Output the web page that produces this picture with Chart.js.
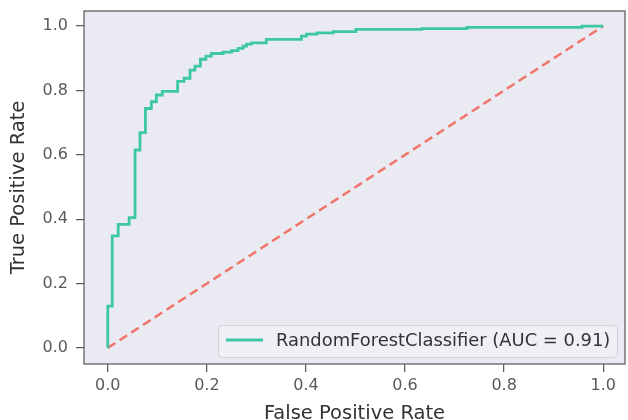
<!DOCTYPE html>
<html>
<head>
<meta charset="utf-8">
<script src="https://cdn.jsdelivr.net/npm/chart.js@4"></script>
<style>
  html, body { margin: 0; padding: 0; background: #ffffff; }
  #wrap { width: 628px; height: 420px; }
</style>
</head>
<body>
<div id="wrap"><canvas id="rocChart" width="628" height="420"></canvas></div>
<script>
// ROC curve corner points
const fpr = [0, 0, 0.009, 0.021, 0.043, 0.055, 0.065, 0.076, 0.088, 0.098, 0.11,
             0.141, 0.154, 0.166, 0.176, 0.187, 0.198, 0.209, 0.233, 0.25, 0.263,
             0.273, 0.28, 0.29, 0.32, 0.391, 0.401, 0.422, 0.455, 0.501, 0.634,
             0.725, 0.957, 1.0];
const tpr = [0, 0.13, 0.348, 0.384, 0.405, 0.615, 0.669, 0.744, 0.765, 0.786, 0.797,
             0.828, 0.838, 0.863, 0.876, 0.897, 0.907, 0.915, 0.919, 0.924, 0.931,
             0.938, 0.944, 0.948, 0.959, 0.969, 0.975, 0.979, 0.983, 0.99, 0.992,
             0.996, 1.0, 1.0];
const chanceX = [0, 1];
const chanceY = [0, 1];
const xTicks = [0, 0.2, 0.4, 0.6, 0.8, 1.0];
const yTicks = [0, 0.2, 0.4, 0.6, 0.8, 1.0];
const curveLabel = 'RandomForestClassifier (AUC = 0.91)';

const FONT = "'DejaVu Sans', sans-serif";
const curveColor = '#3ec7a3';
const chanceColor = '#f0766c';

// plot background + full frame, legend drawn inside the axes
const axesPlugin = {
    id: 'axesBox',
    beforeDraw(chart) {
        const {ctx, chartArea: a} = chart;
        ctx.save();
        ctx.fillStyle = '#eaeaf2';
        ctx.fillRect(a.left, a.top, a.right - a.left, a.bottom - a.top);
        ctx.restore();
    },
    afterDraw(chart) {
        const {ctx, chartArea: a} = chart;
        ctx.save();
        ctx.strokeStyle = '#5c5c5c';
        ctx.lineWidth = 1.25;
        ctx.strokeRect(a.left, a.top, a.right - a.left, a.bottom - a.top);

        // legend box in lower right
        const bx = 218, by = 325, bw = 399, bh = 32;
        ctx.beginPath();
        ctx.roundRect(bx + 0.5, by + 0.5, bw, bh, 4);
        ctx.fillStyle = 'rgba(240,240,246,0.9)';
        ctx.fill();
        ctx.strokeStyle = '#d2d2d8';
        ctx.lineWidth = 1;
        ctx.stroke();

        ctx.beginPath();
        ctx.moveTo(226, by + 15);
        ctx.lineTo(263, by + 15);
        ctx.strokeStyle = curveColor;
        ctx.lineWidth = 2.8;
        ctx.stroke();

        ctx.fillStyle = '#333333';
        ctx.font = '17.9px ' + FONT;
        ctx.textBaseline = 'middle';
        ctx.textAlign = 'left';
        ctx.fillText(chart.data.datasets[0].label, 276, by + 16);
        ctx.restore();
    }
};

const ctx = document.getElementById('rocChart');
new Chart(ctx, {
    type: 'scatter',
    data: {
        datasets: [
            {
                label: curveLabel,
                data: fpr.map((x, i) => ({x: x, y: tpr[i]})),
                showLine: true,
                stepped: 'before',
                borderColor: curveColor,
                borderWidth: 2.8,
                pointRadius: 0,
                order: 1
            },
            {
                label: 'chance',
                data: chanceX.map((x, i) => ({x: x, y: chanceY[i]})),
                showLine: true,
                borderColor: chanceColor,
                borderWidth: 2.5,
                borderDash: [9, 5],
                pointRadius: 0,
                order: 2
            }
        ]
    },
    options: {
        responsive: false,
        animation: false,
        layout: { padding: { top: 11, right: 3, left: 0, bottom: 0 } },
        scales: {
            x: {
                type: 'linear',
                min: -0.048,
                max: 1.044,
                afterBuildTicks: (scale) => { scale.ticks = xTicks.map(v => ({value: v})); },
                afterFit: (scale) => {
                    scale.height = 56;
                    scale.paddingLeft = 0;
                    scale.paddingRight = 0;
                },
                border: { display: false },
                grid: { drawOnChartArea: false, drawTicks: true, tickLength: 8, color: '#5c5c5c', lineWidth: 1.25 },
                ticks: {
                    padding: 4,
                    color: '#5a5a5a',
                    font: { family: FONT, size: 16 },
                    callback: (v) => Number(v).toFixed(1),
                    maxRotation: 0
                },
                title: {
                    display: true,
                    text: 'False Positive Rate',
                    color: '#333333',
                    font: { family: FONT, size: 19.5, lineHeight: 1.0 },
                    padding: { top: 0, bottom: -4 }
                }
            },
            y: {
                type: 'linear',
                min: -0.05,
                max: 1.047,
                afterBuildTicks: (scale) => { scale.ticks = yTicks.map(v => ({value: v})); },
                afterFit: (scale) => {
                    scale.width = 84;
                    scale.paddingTop = 0;
                    scale.paddingBottom = 0;
                },
                border: { display: false },
                grid: { drawOnChartArea: false, drawTicks: true, tickLength: 8, color: '#5c5c5c', lineWidth: 1.25 },
                ticks: {
                    padding: 8,
                    color: '#5a5a5a',
                    font: { family: FONT, size: 16 },
                    callback: (v) => Number(v).toFixed(1)
                },
                title: {
                    display: true,
                    text: 'True Positive Rate',
                    color: '#333333',
                    font: { family: FONT, size: 19.5, lineHeight: 1.2 },
                    padding: { top: 7, bottom: 0 }
                }
            }
        },
        plugins: {
            legend: { display: false },
            tooltip: { enabled: false }
        }
    },
    plugins: [axesPlugin]
});
</script>
</body>
</html>
